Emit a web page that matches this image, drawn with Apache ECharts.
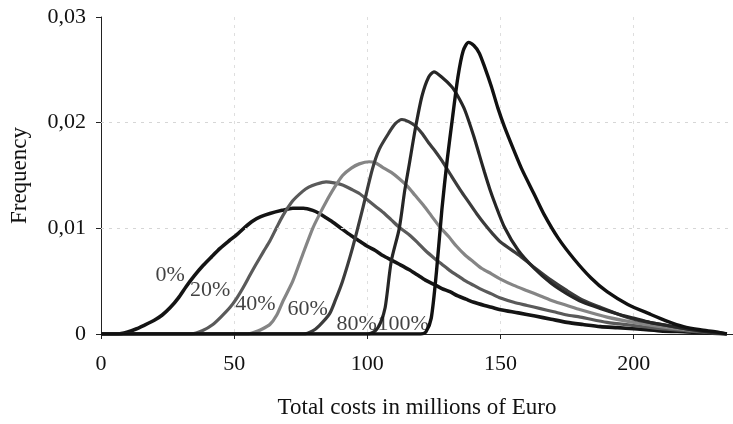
<!DOCTYPE html>
<html>
<head>
<meta charset="utf-8">
<script src="https://cdn.jsdelivr.net/npm/echarts@6/dist/echarts.min.js"></script>
<style>
html,body{margin:0;padding:0;background:#fff;}
#chart{width:733px;height:424px;}
</style>
</head>
<body>
<div id="chart"></div>
<script>
// ---- data ----
var seriesNames = ['0%', '20%', '40%', '60%', '80%', '100%'];

var x0 = [0, 6, 10, 13.4, 16, 20, 23, 26, 29, 32, 35, 38.4, 41.5, 44.7, 48, 51, 54, 57, 60, 63.4, 68, 72, 76, 79.5, 82, 84.5, 87.5, 90.7, 94, 97, 100, 103, 106, 109, 112, 115.6, 118.7, 121.8, 125, 128, 131, 134, 137, 140, 144, 147, 150, 156.7, 163, 169, 175, 181, 187.5, 194, 200, 210, 220, 228, 235];
var y0 = [0, 0, 0.0002, 0.0005, 0.0008, 0.0013, 0.0018, 0.0025, 0.0034, 0.0045, 0.0055, 0.0065, 0.0073, 0.0081, 0.0088, 0.0094, 0.0101, 0.0107, 0.0111, 0.0114, 0.0117, 0.0119, 0.0119, 0.0117, 0.0114, 0.0110, 0.0105, 0.0099, 0.0093, 0.0088, 0.0083, 0.0079, 0.0074, 0.0070, 0.0066, 0.0061, 0.0056, 0.0051, 0.0047, 0.0043, 0.0040, 0.0036, 0.0033, 0.0030, 0.0027, 0.0025, 0.0023, 0.0020, 0.0017, 0.0014, 0.0011, 0.0009, 0.0007, 0.0006, 0.0005, 0.0003, 0.0002, 0.0001, 0];

var x20 = [0, 34, 38, 42, 45, 48.4, 51, 53.4, 56, 58, 61, 63.4, 66, 68.3, 72, 75.7, 78, 81, 84.5, 87.5, 90.7, 94, 97, 100, 103, 106, 109, 112, 115.7, 118.7, 121.8, 125, 128, 131, 134, 137, 140, 143, 146.6, 150, 155, 160, 165, 170, 175, 180, 190, 200, 210, 220, 230, 235];
var y20 = [0, 0, 0.0003, 0.0009, 0.0016, 0.0025, 0.0034, 0.0044, 0.0056, 0.0065, 0.0078, 0.0088, 0.0101, 0.0112, 0.0126, 0.0135, 0.0139, 0.0142, 0.0144, 0.0143, 0.0141, 0.0137, 0.0133, 0.0127, 0.0121, 0.0115, 0.0108, 0.0101, 0.0094, 0.0087, 0.0079, 0.0072, 0.0066, 0.0060, 0.0055, 0.0050, 0.0046, 0.0042, 0.0038, 0.0034, 0.0030, 0.0027, 0.0024, 0.0021, 0.0018, 0.0016, 0.0011, 0.0008, 0.0005, 0.0003, 0.0001, 0];

var x40 = [0, 55, 58, 60, 63.4, 66, 68.3, 72, 75.7, 79.5, 82, 84.5, 87.5, 90.7, 94, 97, 100.7, 103, 105.6, 109, 112, 115, 118, 121, 124, 127, 130.6, 133.5, 136.6, 140, 143, 146.6, 150, 155, 160, 165, 170, 175, 180, 190, 200, 210, 220, 230, 235];
var y40 = [0, 0, 0.0002, 0.0004, 0.0009, 0.0018, 0.0031, 0.0050, 0.0075, 0.0100, 0.0113, 0.0125, 0.0138, 0.0150, 0.0157, 0.0161, 0.0163, 0.0162, 0.0158, 0.0153, 0.0147, 0.0140, 0.0131, 0.0122, 0.0112, 0.0102, 0.0092, 0.0083, 0.0075, 0.0068, 0.0062, 0.0057, 0.0052, 0.0046, 0.0041, 0.0036, 0.0031, 0.0027, 0.0023, 0.0016, 0.0011, 0.0007, 0.0004, 0.0002, 0];

var x60 = [0, 76, 79.5, 82, 85.8, 88, 90.7, 94.4, 98, 101.9, 104.5, 108, 110.5, 113, 115.5, 118, 120.5, 123, 125.5, 128, 131.7, 135, 138, 141, 144, 147, 150, 156.7, 162.7, 169, 175, 181, 187.7, 194, 200, 206, 215, 225, 235];
var y60 = [0, 0, 0.0003, 0.0008, 0.0019, 0.0032, 0.0050, 0.0081, 0.0116, 0.0156, 0.0175, 0.0190, 0.0199, 0.0203, 0.0201, 0.0197, 0.0190, 0.0181, 0.0173, 0.0164, 0.0149, 0.0136, 0.0125, 0.0114, 0.0104, 0.0095, 0.0087, 0.0075, 0.0063, 0.0051, 0.0041, 0.0032, 0.0025, 0.0019, 0.0014, 0.0011, 0.0007, 0.0003, 0];

var x80 = [0, 100, 103, 105, 106.7, 109, 112, 114, 115.7, 118, 120.5, 123, 125, 128, 131.7, 134, 136.6, 140, 142, 144, 146, 148, 151.5, 156.7, 162.7, 169, 175, 181, 187.7, 194, 200, 206, 215, 225, 235];
var y80 = [0, 0, 0.0003, 0.0011, 0.0025, 0.0069, 0.0100, 0.0135, 0.0160, 0.0194, 0.0225, 0.0243, 0.0248, 0.0243, 0.0234, 0.0225, 0.0212, 0.0187, 0.0170, 0.0153, 0.0137, 0.0123, 0.0101, 0.0079, 0.0062, 0.0048, 0.0038, 0.0030, 0.0024, 0.0019, 0.0015, 0.0011, 0.0007, 0.0003, 0];

var x100 = [0, 120, 122, 124, 126, 128, 130, 132, 134, 136, 138, 140, 142, 144, 146.6, 149, 151.5, 155, 158, 162.7, 166.4, 171.6, 177.6, 184, 190, 197.8, 206, 212.7, 218.7, 225, 231, 235];
var y100 = [0, 0, 0.0002, 0.0015, 0.0060, 0.0118, 0.0165, 0.0205, 0.0243, 0.0268, 0.0276, 0.0273, 0.0266, 0.0253, 0.0234, 0.0214, 0.0196, 0.0174, 0.0156, 0.0132, 0.0113, 0.0091, 0.0071, 0.0053, 0.0040, 0.0028, 0.0019, 0.0012, 0.0007, 0.0004, 0.0002, 0];

// curve labels placed in data coordinates
var labelText = ['0%', '20%', '40%', '60%', '80%', '100%'];
var labelX = [26, 41, 58, 77.6, 96, 113.5];
var labelY = [0.0056, 0.0041, 0.0028, 0.0023, 0.0009, 0.0009];

var xTicks = [0, 50, 100, 150, 200];
var yTicks = [0, 0.01, 0.02, 0.03];
var yGridLines = [0.01, 0.02];

// ---- styles ----
var xsAll = [x0, x20, x40, x60, x80, x100];
var ysAll = [y0, y20, y40, y60, y80, y100];
var colors = ['#141414', '#5a5a5a', '#858585', '#3c3c3c', '#262626', '#111111'];
var widths = [3.6, 3.2, 3.2, 3.2, 3.2, 3.4];
var FONT = '"Liberation Serif", "Times New Roman", serif';

function pairs(xs, ys) {
  var out = [];
  for (var i = 0; i < xs.length; i++) out.push([xs[i], ys[i]]);
  return out;
}

var series = [];
for (var s = 0; s < seriesNames.length; s++) {
  series.push({
    name: seriesNames[s],
    type: 'line',
    data: pairs(xsAll[s], ysAll[s]),
    showSymbol: false,
    smooth: 0.25,
    lineStyle: { color: colors[s], width: widths[s] },
    z: 3 + s,
    silent: true
  });
}
// faint horizontal gridlines
series[0].markLine = {
  silent: true,
  symbol: 'none',
  label: { show: false },
  lineStyle: { color: '#d6d6d6', type: [3, 5], width: 1 },
  data: yGridLines.map(function (v) { return { yAxis: v }; })
};

var labelData = [];
for (var k = 0; k < labelText.length; k++) labelData.push({ value: [labelX[k], labelY[k]], name: labelText[k] });
series.push({
  type: 'scatter',
  data: labelData,
  symbolSize: 1,
  itemStyle: { color: 'rgba(0,0,0,0)' },
  label: {
    show: true,
    position: 'inside',
    formatter: function (p) { return p.name; },
    fontFamily: FONT,
    fontSize: 22,
    color: '#111'
  },
  z: 20,
  silent: true
});

var chart = echarts.init(document.getElementById('chart'), null, { renderer: 'canvas' });
chart.setOption({
  animation: false,
  backgroundColor: '#fff',
  grid: { left: 97, top: 17, right: 0, bottom: 87, containLabel: false },
  xAxis: {
    type: 'value',
    min: 0,
    max: 237.3,
    interval: 50,
    name: 'Total costs in millions of Euro',
    nameLocation: 'middle',
    nameGap: 62,
    nameTextStyle: { fontFamily: FONT, fontSize: 23, color: '#111' },
    axisLine: { show: true, lineStyle: { color: '#222', width: 1 } },
    axisTick: { show: true, inside: false, length: 5, lineStyle: { color: '#222' } },
    axisLabel: {
      fontFamily: FONT, fontSize: 22, color: '#111', margin: 19,
      showMaxLabel: false,
      formatter: function (v) { return xTicks.indexOf(v) >= 0 ? String(v) : ''; }
    },
    splitLine: { show: true, lineStyle: { color: '#dedede', type: [3, 5], width: 1 } }
  },
  yAxis: {
    type: 'value',
    min: 0,
    max: 0.03,
    interval: 0.01,
    name: 'Frequency',
    nameLocation: 'middle',
    nameGap: 70,
    nameTextStyle: { fontFamily: FONT, fontSize: 23, color: '#111' },
    axisLine: { show: true, lineStyle: { color: '#222', width: 1 } },
    axisTick: { show: true, inside: false, length: 5, lineStyle: { color: '#222' } },
    axisLabel: {
      fontFamily: FONT, fontSize: 22, color: '#111', margin: 15,
      formatter: function (v) {
        for (var i = 0; i < yTicks.length; i++) {
          if (Math.abs(v - yTicks[i]) < 1e-9) return v === 0 ? '0' : yTicks[i].toFixed(2).replace('.', ',');
        }
        return '';
      }
    },
    splitLine: { show: false }
  },
  series: series
});
</script>
</body>
</html>
